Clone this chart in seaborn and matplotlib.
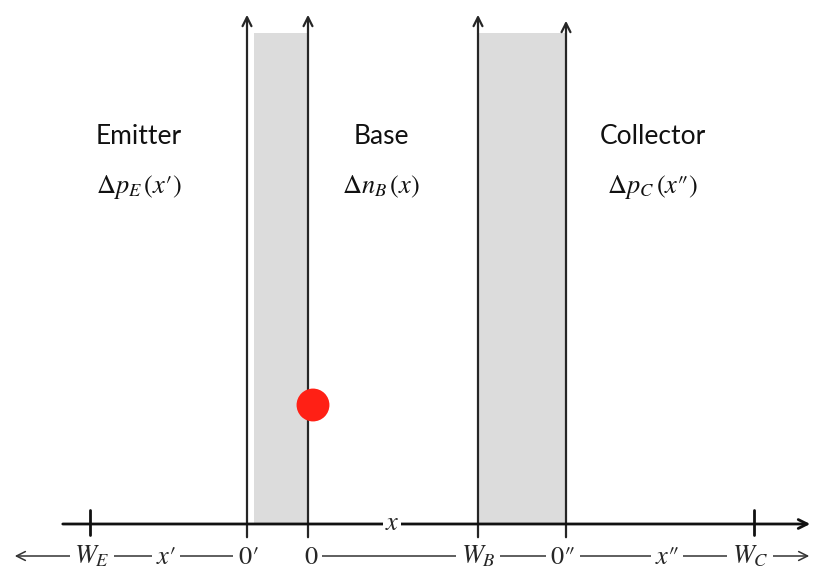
import matplotlib
matplotlib.use("Agg")
import matplotlib.pyplot as plt
import seaborn as sns
import pandas as pd

sns.set_theme(style="white")
plt.rcParams['font.family'] = ['Lato', 'DejaVu Sans']
plt.rcParams['mathtext.fontset'] = 'stix'

# ---- data (diagram coordinates, pixel-like units) ----
region_names = ["Emitter", "Base", "Collector"]
region_x = [139, 381, 653]
region_funcs = [r"$\Delta p_E\,(x\prime)$", r"$\Delta n_B\,(x)$",
                r"$\Delta p_C\,(x\prime\!\prime)$"]

boundary_x = [247, 308, 478, 566]
boundary_top = [12, 12, 12, 18]
shade_left = [254, 478]
shade_right = [308, 566]
shade_top = 33

tick_x = [90, 754]
bottom_labels = [r"$W_E$", r"$x\prime$", r"$0\prime$", r"$0$", r"$W_B$",
                 r"$0\prime\!\prime$", r"$x\prime\!\prime$", r"$W_C$"]
bottom_label_x = [92, 166, 248, 311, 478, 563, 667, 750]

dot_x = [313]
dot_y = [405]

axis_y = 524
row_y = 556

fig = plt.figure(figsize=(8.13, 5.71), dpi=100)
ax = fig.add_axes([0, 0, 1, 1])

# shaded regions
for l, r in zip(shade_left, shade_right):
    ax.fill_between([l, r], [shade_top, shade_top], [axis_y, axis_y],
                    color="#dcdcdc", lw=0, zorder=1)

# vertical arrows
arrow_kw = dict(arrowstyle="->", lw=1.6, color="#262626", mutation_scale=16)
for bx, bt in zip(boundary_x, boundary_top):
    ax.annotate("", xy=(bx, bt), xytext=(bx, 540), arrowprops=arrow_kw, zorder=3)

# horizontal axis
ax.annotate("", xy=(813, axis_y), xytext=(60, axis_y),
            arrowprops=dict(arrowstyle="->", lw=2.0, color="#111111", mutation_scale=16), zorder=3)
for tx in tick_x:
    ax.plot([tx, tx], [510, 535], color="#111111", lw=2.0, zorder=3)
ax.text(392, axis_y - 1, r"$x$", fontsize=19, ha="center", va="center", zorder=4,
        bbox=dict(facecolor="white", edgecolor="none", pad=1.5))

# bottom row lines
row_kw = dict(arrowstyle="->", lw=1.1, color="#333333", mutation_scale=16)
ax.annotate("", xy=(12, row_y), xytext=(262, row_y), arrowprops=row_kw, zorder=2)
ax.annotate("", xy=(812, row_y), xytext=(300, row_y), arrowprops=row_kw, zorder=2)
for lab, lx in zip(bottom_labels, bottom_label_x):
    ax.text(lx, row_y, lab, fontsize=19, ha="center", va="center", zorder=4,
            bbox=dict(facecolor="white", edgecolor="none", pad=3))

# region labels
for name, rx, fn in zip(region_names, region_x, region_funcs):
    ax.text(rx, 137, name, fontsize=19, ha="center", va="center", color="#111111")
    ax.text(rx, 187, fn, fontsize=19, ha="center", va="center", color="#111111")

# red dot
df = pd.DataFrame({"x": dot_x, "y": dot_y})
sns.scatterplot(data=df, x="x", y="y", ax=ax, s=560, color="#ff2015",
                edgecolor="none", zorder=5, legend=False)
ax.set_xlim(0, 813)
ax.set_ylim(571, 0)
ax.axis("off")

fig.savefig("out.png", dpi=100)
